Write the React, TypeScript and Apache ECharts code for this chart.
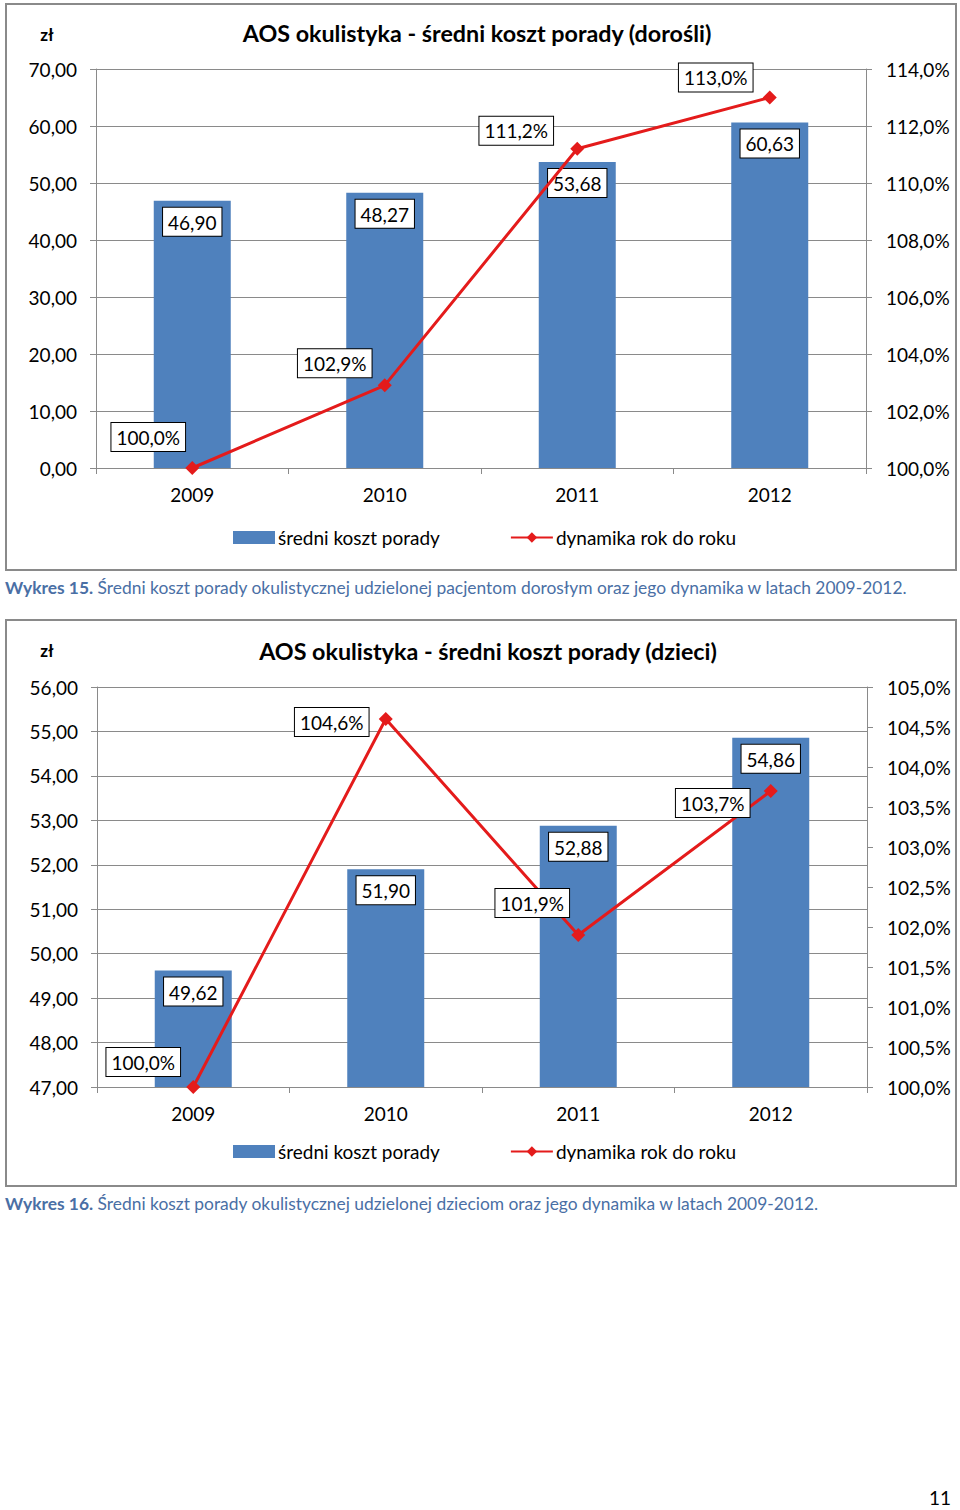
import React, { useEffect, useRef } from "react";
import * as echarts from "echarts";

const categories = ["2009", "2010", "2011", "2012"];
const costAdults = [46.9, 48.27, 53.68, 60.63];
const dynAdults = [100.0, 102.9, 111.2, 113.0];
const costChildren = [49.62, 51.9, 52.88, 54.86];
const dynChildren = [100.0, 104.6, 101.9, 103.7];

const costAxisAdults = { min: 0, max: 70, interval: 10 };
const dynAxisAdults = { min: 100, max: 114, interval: 2 };
const costAxisChildren = { min: 47, max: 56, interval: 1 };
const dynAxisChildren = { min: 100, max: 105, interval: 0.5 };

// label shifts (layout only) for the line labels, relative to each marker
const lineLabelShiftAdults = [[-44, -31], [-50, -22], [-61, -18], [-54, -20]];
const lineLabelShiftChildren = [[-50, -25], [-54, 3], [-46, -32], [-58, 12]];

const SERIES_BAR = "średni koszt porady";
const SERIES_LINE = "dynamika rok do roku";
const TITLE_ADULTS = "AOS okulistyka - średni koszt porady (dorośli)";
const TITLE_CHILDREN = "AOS okulistyka - średni koszt porady (dzieci)";
const CAPTION_ADULTS =
  "Średni koszt porady okulistycznej udzielonej pacjentom dorosłym oraz jego dynamika w latach 2009-2012.";
const CAPTION_CHILDREN =
  "Średni koszt porady okulistycznej udzielonej dzieciom oraz jego dynamika w latach 2009-2012.";

const FONT = "Lato";
const BLUE = "#4f81bd";
const RED = "#e41b1b";
const GRAY = "#8a8a8a";
const CAPTION_COLOR = "#4a6fa5";

const fmt2 = (v: number) => v.toFixed(2).replace(".", ",");
const fmtPct = (v: number) => v.toFixed(1).replace(".", ",") + "%";

const boxLabel = {
  backgroundColor: "#fff",
  borderColor: "#000",
  borderWidth: 1,
  padding: [5, 5, 4, 5],
  fontSize: 19,
  color: "#000",
  fontFamily: FONT,
};

function xAxis(gridIndex: number) {
  return {
    type: "category",
    gridIndex,
    data: categories,
    axisLine: { lineStyle: { color: GRAY, width: 1 } },
    axisTick: { show: true, length: 6, lineStyle: { color: GRAY } },
    axisLabel: { fontSize: 19, color: "#000", margin: 17, fontFamily: FONT },
  };
}

function leftAxis(gridIndex: number, r: any) {
  return {
    type: "value",
    gridIndex,
    position: "left",
    min: r.min,
    max: r.max,
    interval: r.interval,
    axisLine: { show: true, lineStyle: { color: GRAY, width: 1 } },
    axisTick: { show: true, length: 6, lineStyle: { color: GRAY } },
    splitLine: { show: true, lineStyle: { color: GRAY, width: 1 } },
    axisLabel: { fontSize: 19, color: "#000", margin: 19, formatter: fmt2, fontFamily: FONT },
  };
}

function rightAxis(gridIndex: number, r: any) {
  return {
    type: "value",
    gridIndex,
    position: "right",
    min: r.min,
    max: r.max,
    interval: r.interval,
    axisLine: { show: true, lineStyle: { color: GRAY, width: 1 } },
    axisTick: { show: true, length: 6, lineStyle: { color: GRAY } },
    splitLine: { show: false },
    axisLabel: { fontSize: 19, color: "#000", margin: 20, formatter: fmtPct, fontFamily: FONT },
  };
}

function barSeries(values: number[], xi: number, yi: number) {
  return {
    name: SERIES_BAR,
    type: "bar",
    xAxisIndex: xi,
    yAxisIndex: yi,
    barWidth: "40%",
    itemStyle: { color: BLUE },
    data: values,
    label: {
      show: true,
      position: "insideTop",
      distance: 7,
      formatter: (p: any) => fmt2(p.value),
      ...boxLabel,
    },
    z: 2,
  };
}

function lineSeries(values: number[], shifts: number[][], xi: number, yi: number) {
  return {
    name: SERIES_LINE,
    type: "line",
    xAxisIndex: xi,
    yAxisIndex: yi,
    symbol: "diamond",
    symbolSize: 14,
    lineStyle: { color: RED, width: 3 },
    itemStyle: { color: RED },
    data: values.map((v, i) => ({
      value: v,
      label: { offset: shifts[i] },
    })),
    label: {
      show: true,
      position: "inside",
      formatter: (p: any) => fmtPct(p.value),
      ...boxLabel,
    },
    z: 5,
  };
}

function legend(top: number) {
  return {
    left: 228,
    top,
    itemWidth: 42,
    itemHeight: 13,
    itemGap: 70,
    textStyle: { fontSize: 19, color: "#000", fontFamily: FONT, padding: [0, 0, 0, -2] },
    data: [
      { name: SERIES_BAR, icon: "rect" },
      { name: SERIES_LINE },
    ],
  };
}

function caption(y: number, num: string, text: string) {
  return {
    type: "text",
    x: 5,
    y,
    style: {
      text: `{b|Wykres ${num}.} ${text}`,
      fill: CAPTION_COLOR,
      fontSize: 17.4,
      fontFamily: FONT,
      verticalAlign: "middle",
      rich: {
        b: { fontWeight: "bold", fill: CAPTION_COLOR, fontSize: 17.4, fontFamily: FONT },
      },
    },
  };
}

function label(x: number, y: number, text: string, size: number, bold: boolean) {
  return {
    type: "text",
    x,
    y,
    style: {
      text,
      fill: "#000",
      fontSize: size,
      fontWeight: bold ? "bold" : "normal",
      fontFamily: FONT,
      align: "center",
      verticalAlign: "middle",
    },
  };
}

export default function App() {
  const ref = useRef<HTMLDivElement>(null);
  useEffect(() => {
    if (!ref.current) return;
    const chart = echarts.init(ref.current, null, { renderer: "svg" });
    chart.setOption({
      animation: false,
      backgroundColor: "#fff",
      textStyle: { fontFamily: FONT },
      grid: [
        { left: 96, top: 69, width: 770, height: 399 },
        { left: 97, top: 687, width: 770, height: 400 },
      ],
      xAxis: [xAxis(0), xAxis(1)],
      yAxis: [
        leftAxis(0, costAxisAdults),
        rightAxis(0, dynAxisAdults),
        leftAxis(1, costAxisChildren),
        rightAxis(1, dynAxisChildren),
      ],
      legend: [legend(523), legend(1137)],
      series: [
        barSeries(costAdults, 0, 0),
        lineSeries(dynAdults, lineLabelShiftAdults, 0, 1),
        barSeries(costChildren, 1, 2),
        lineSeries(dynChildren, lineLabelShiftChildren, 1, 3),
      ],
      graphic: [
        {
          type: "rect",
          shape: { x: 6, y: 4, width: 950, height: 566 },
          style: { fill: "transparent", stroke: GRAY, lineWidth: 2 },
        },
        {
          type: "rect",
          shape: { x: 6, y: 620, width: 950, height: 566 },
          style: { fill: "transparent", stroke: GRAY, lineWidth: 2 },
        },
        label(47, 34, "zł", 17, true),
        label(477, 33, TITLE_ADULTS, 23.3, true),
        label(47, 650, "zł", 17, true),
        label(488, 651, TITLE_CHILDREN, 23.3, true),
        caption(587, "15", CAPTION_ADULTS),
        caption(1203, "16", CAPTION_CHILDREN),
        label(940, 1497, "11", 19, false),
      ],
    });
    return () => chart.dispose();
  }, []);
  return (
    <div
      ref={ref}
      style={{ position: "absolute", left: 0, top: 0, width: 960, height: 1510, background: "#fff" }}
    />
  );
}
